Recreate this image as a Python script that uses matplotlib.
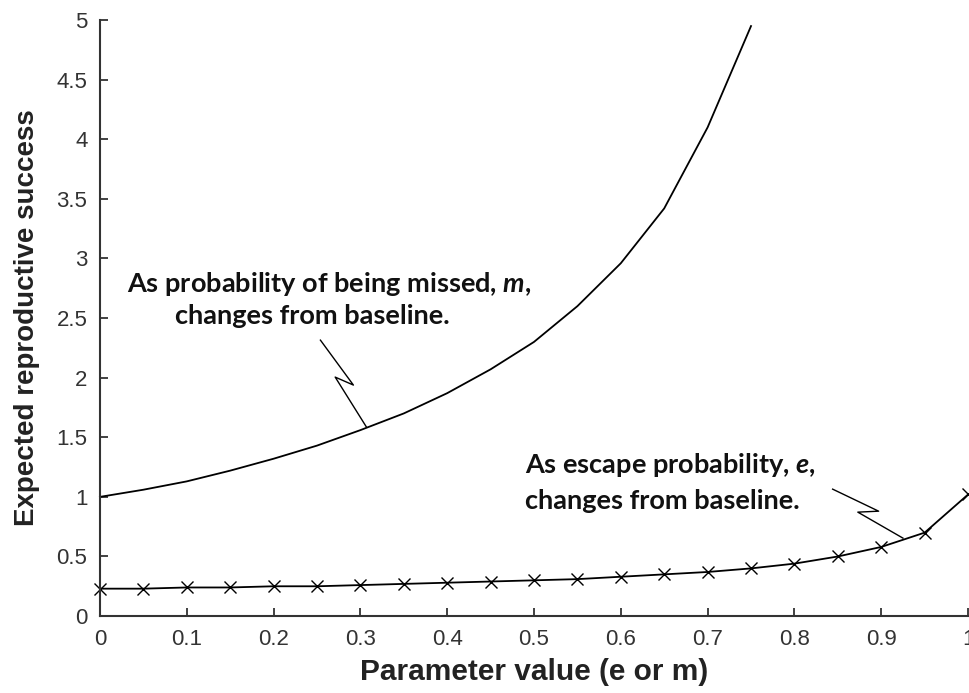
import matplotlib
matplotlib.use("Agg")
import matplotlib.pyplot as plt
import numpy as np

# ---- data ----
x_m = [0.0, 0.05, 0.1, 0.15, 0.2, 0.25, 0.3, 0.35, 0.4, 0.45, 0.5, 0.55, 0.6, 0.65, 0.7, 0.75]
y_m = [1.0, 1.06, 1.13, 1.22, 1.32, 1.43, 1.56, 1.70, 1.87, 2.07, 2.30, 2.60, 2.96, 3.42, 4.10, 4.95]

x_e = [0.0, 0.05, 0.1, 0.15, 0.2, 0.25, 0.3, 0.35, 0.4, 0.45, 0.5, 0.55, 0.6, 0.65, 0.7, 0.75, 0.8, 0.85, 0.9, 0.95, 1.0]
y_e = [0.23, 0.23, 0.24, 0.24, 0.25, 0.25, 0.26, 0.27, 0.28, 0.29, 0.30, 0.31, 0.33, 0.35, 0.37, 0.40, 0.44, 0.50, 0.58, 0.70, 1.02]

x_ticks = [0, 0.1, 0.2, 0.3, 0.4, 0.5, 0.6, 0.7, 0.8, 0.9, 1]
x_ticklabels = ["0", "0.1", "0.2", "0.3", "0.4", "0.5", "0.6", "0.7", "0.8", "0.9", "1"]
y_ticks = [0, 0.5, 1, 1.5, 2, 2.5, 3, 3.5, 4, 4.5, 5]
y_ticklabels = ["0", "0.5", "1", "1.5", "2", "2.5", "3", "3.5", "4", "4.5", "5"]

x_label = "Parameter value (e or m)"
y_label = "Expected reproductive success"
note_m = ["As probability of being missed, $m$,", "changes from baseline."]
note_e = ["As escape probability, $e$,", "changes from baseline."]

# leader (zig-zag) lines for the notes, in data coordinates
lead_m_x = [0.254, 0.292, 0.271, 0.307]
lead_m_y = [2.315, 1.938, 2.005, 1.586]
lead_e_x = [0.844, 0.897, 0.873, 0.925]
lead_e_y = [1.065, 0.880, 0.872, 0.654]

plt.rcParams['mathtext.fontset'] = 'custom'
plt.rcParams['mathtext.it'] = 'Lato:italic:bold'
plt.rcParams['mathtext.rm'] = 'Lato:bold'

fig = plt.figure(figsize=(9.7, 6.93), dpi=100)
ax = fig.add_axes([0.103, 0.111, 0.895, 0.86])

ax.plot(x_m, y_m, color='black', lw=1.3, clip_on=False)
ax.plot(x_e, y_e, color='black', lw=1.3, marker='x', markersize=9,
        markeredgewidth=1.0, clip_on=False)

ax.plot(lead_m_x, lead_m_y, color='black', lw=1.0)
ax.plot(lead_e_x, lead_e_y, color='black', lw=1.0)

ax.set_xlim(0, 1)
ax.set_ylim(0, 5)
ax.set_xticks(x_ticks)
ax.set_xticklabels(x_ticklabels)
ax.set_yticks(y_ticks)
ax.set_yticklabels(y_ticklabels)

for s in ['top', 'right']:
    ax.spines[s].set_visible(False)
for s in ['left', 'bottom']:
    ax.spines[s].set_linewidth(1.5)
    ax.spines[s].set_color('#333333')

ax.tick_params(direction='in', length=6, width=1.3, color='#333333',
               labelsize=16, labelcolor='#333333', pad=9)
for lab in ax.get_xticklabels() + ax.get_yticklabels():
    lab.set_fontfamily('Liberation Sans')

ax.set_xlabel(x_label, fontsize=21.5, fontweight='bold', family='Liberation Sans',
              color='#222222', labelpad=6)
ax.set_ylabel(y_label, fontsize=20, fontweight='bold', family='Liberation Sans',
              color='#222222', labelpad=12)

note_kw = dict(fontsize=19.5, fontweight='bold', family='Lato',
               color='#111111', ha='left', va='center')
ax.text(0.031, 2.79, note_m[0], **note_kw)
ax.text(0.087, 2.52, note_m[1], **note_kw)
ax.text(0.49, 1.265, note_e[0], **note_kw)
ax.text(0.49, 0.965, note_e[1], **note_kw)

fig.savefig('out.png', dpi=100)
